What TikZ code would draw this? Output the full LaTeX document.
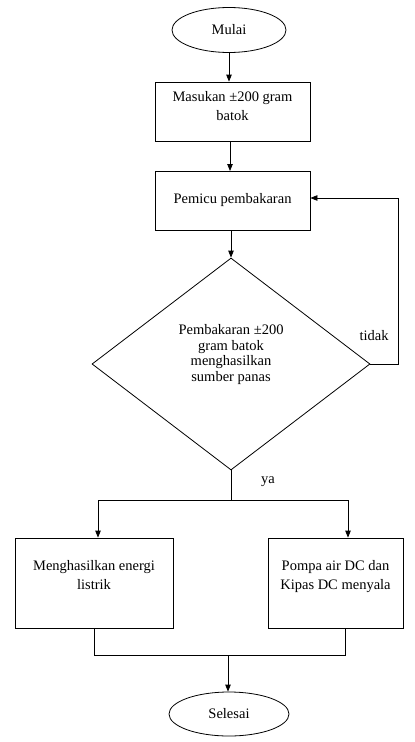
\documentclass[tikz,border=0pt]{standalone}
\usepackage{fontspec}
\setmainfont{Liberation Serif}
\usetikzlibrary{shapes.geometric,arrows.meta}
\begin{document}
\begin{tikzpicture}[x=1pt,y=-1pt,
  every node/.style={font=\fontsize{14.5}{19}\selectfont, inner sep=0pt},
  proc/.style={draw, line width=0.8pt, rectangle, align=center},
  term/.style={draw, line width=0.8pt, ellipse},
  decis/.style={draw, line width=0.8pt, diamond, align=center},
  conn/.style={line width=0.8pt},
  arr/.style={line width=0.8pt, -{Triangle[length=7pt,width=5.5pt]}},
  lbl/.style={font=\fontsize{14.5}{17}\selectfont}]
\useasboundingbox (0,0) rectangle (415,742);
\node[term, minimum width=114pt, minimum height=45pt] (start) at (229,30) {Mulai};
\node[proc, minimum width=155pt, minimum height=59pt, text depth=11pt] (in) at (232.5,111.5) {Masukan ±200 gram\\batok};
\node[proc, minimum width=155pt, minimum height=59pt] (trig) at (232.5,200.5) {Pemicu pembakaran};
\node[decis, minimum width=278pt, minimum height=212pt, text depth=22pt,
      font=\fontsize{14.5}{15.7}\selectfont] (dec) at (231,364) {Pembakaran ±200\\gram batok\\menghasilkan\\sumber panas};
\node[proc, minimum width=158pt, minimum height=90pt, text depth=16pt] (L) at (94,583) {Menghasilkan energi\\listrik};
\node[proc, minimum width=135pt, minimum height=90pt, text depth=16pt] (R) at (335.5,583) {Pompa air DC dan\\Kipas DC menyala};
\node[term, minimum width=120pt, minimum height=44pt] (end) at (229,714) {Selesai};
\node[lbl] (tidak) at (374,336) {tidak};
\node[lbl] (ya) at (268,482) {ya};
\coordinate (fb) at (398,364);
\coordinate (split) at (231,500);
\coordinate (sl) at (98,500);
\coordinate (sr) at (348,500);
\coordinate (jl) at (94,655);
\coordinate (jr) at (345,655);
\coordinate (jm) at (228,655);
\draw[arr] (start.south) -- (start.south |- in.north);
\draw[arr] (230,141) -- (230,171);
\draw[arr] (trig.south -| dec.north) -- (dec.north);
\draw[arr] (dec.east) -- (fb) |- ([yshift=2.5pt]trig.east);
\draw[conn] (dec.south) -- (split);
\draw[conn] (sl) -- (sr);
\draw[arr] (sl) -- (sl |- L.north);
\draw[arr] (sr) -- (sr |- R.north);
\draw[conn] (L.south) -- (jl) -- (jr) -- (jr |- R.south);
\draw[arr] (jm) -- (jm |- end.north);
\end{tikzpicture}
\end{document}
